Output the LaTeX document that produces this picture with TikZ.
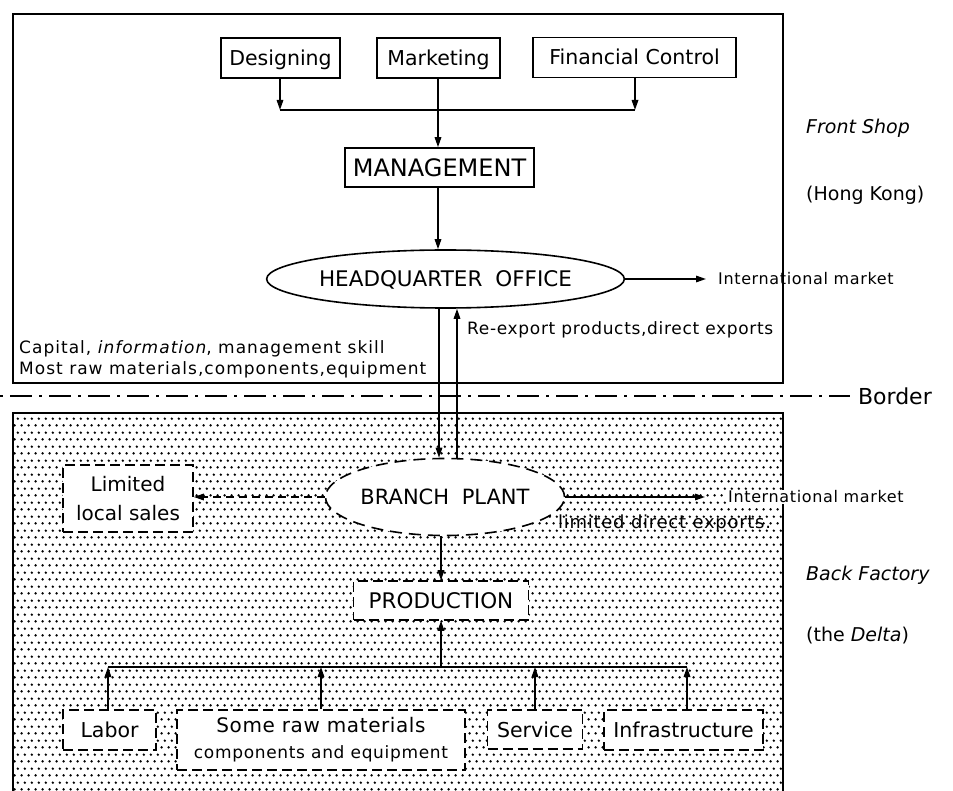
\documentclass[tikz,border=0pt]{standalone}
\usepackage{fontspec}
\setmainfont{DejaVu Sans}
\usetikzlibrary{arrows.meta,shapes.geometric,patterns.meta}
\tikzdeclarepattern{
  name=mydots,
  type=uncolored,
  bounding box={(0pt,0pt) and (6.7pt,13.6pt)},
  tile size={(6.7pt,13.6pt)},
  code={
    \fill (1.675pt,1.7pt) circle (1.35pt);
    \fill (5.025pt,8.5pt) circle (1.35pt);
  }
}
\newcommand\fsz[2]{\fontsize{#1pt}{#2pt}\selectfont}
\newcommand\lsp[1]{\addfontfeature{LetterSpace=#1}}
\begin{document}
\begin{tikzpicture}[x=1pt,y=-1pt,
  ctr/.style={text height=#1,text depth=0pt},
  sbox/.style={draw,line width=1.6pt,inner sep=0pt,minimum height=40pt,font=\fsz{20.5}{24},ctr=15pt},
  dbox/.style={draw,line width=1.6pt,dash pattern=on 10pt off 5pt,fill=white,inner sep=0pt,minimum height=40pt,font=\fsz{20.5}{24}},
  arr/.style={solid,-{Triangle[length=10pt,width=6.5pt]},line width=1.6pt},
  lbl/.style={anchor=west,inner sep=0pt},
  side/.style={anchor=west,inner sep=0pt,font=\fsz{19}{23}}]
\useasboundingbox (0,0) rectangle (953,791);
% frames
\draw[line width=1.6pt] (13,14) rectangle (783,383);
\fill[pattern=mydots,pattern color=black] (13,413) rectangle (783,791);
\draw[line width=1.6pt] (13,791) -- (13,413) -- (783,413) -- (783,791);
% top nodes
\node[sbox,minimum width=119pt] (des) at (280.5,58) {Designing};
\node[sbox,minimum width=123pt] (mkt) at (438.5,58) {Marketing};
\node[sbox,minimum width=203pt] (fin) at (634.5,57.5) {Financial Control};
\node[sbox,minimum width=189pt,minimum height=39pt,font=\fsz{24}{28},ctr=17.5pt] (mgmt) at (439.5,167.5) {MANAGEMENT};
\node[ellipse,draw,line width=1.6pt,minimum width=319pt,minimum height=58pt,inner sep=0pt,font=\fsz{21.5}{26},ctr=15.7pt] (hq) at (445.5,279) {HEADQUARTER\hspace{0.6em}OFFICE};
\coordinate (j1) at (280,110);
\coordinate (j2) at (635,110);
\coordinate (xa) at (438,0);
\coordinate (xd) at (439,0);
\coordinate (xu) at (457,0);
\draw[arr] (des.south -| j1) -- (j1);
\draw[arr] (fin.south -| j2) -- (j2);
\draw[line width=1.6pt] (j1) -- (j2);
\draw[arr] (mkt.south -| xa) -- (mgmt.north -| xa);
\draw[arr] (mgmt.south -| xa) -- (hq.north -| xa);
\node[lbl,font={\fsz{16}{19}\lsp{4}}] (intl1) at (718,279) {International market};
\draw[arr] (hq.east) -- ([xshift=-12pt]intl1.west);
% side labels
\node[side,font={\fsz{19}{23}\itshape}] (fs) at (806,128) {Front Shop};
\node[side] (hk) at (806,195) {(Hong Kong)};
\node[side,font={\fsz{19}{23}\itshape}] (bf) at (806,575) {Back Factory};
\node[side] (dl) at (806,636) {(the \textit{Delta})};
% captions
\node[lbl,font={\fsz{17}{20}\lsp{6}}] (cap1) at (19,349) {Capital, \textit{information}, management skill};
\node[lbl,font={\fsz{17}{20}\lsp{6}}] (cap2) at (19,370) {Most raw materials,components,equipment};
\node[lbl,font={\fsz{17}{20}\lsp{4}}] (rex) at (467,330) {Re-export products,direct exports};
% border
\coordinate (bl) at (0,396);
\node[anchor=east,inner sep=0pt,font=\fsz{22}{26}] (border) at (932,396) {Border};
\draw[line width=2pt,dash pattern=on 3pt off 7pt on 22pt off 7pt] (bl) -- ([xshift=-8pt]border.west);
% branch plant
\node[ellipse,draw,line width=1.6pt,dash pattern=on 12pt off 7pt,fill=white,minimum width=214pt,minimum height=77pt,inner sep=0pt,font=\fsz{21}{25},ctr=15.3pt] (bp) at (445,497) {BRANCH\hspace{0.6em}PLANT};
\draw[arr] (hq.south -| xd) -- (bp.north -| xd);
\draw[arr] (bp.north -| xu) -- (hq.south -| xu);
\node[dbox,minimum width=130pt,minimum height=67pt,align=center,font=\fsz{20}{29}] (lim) at (128,498.5) {Limited\\local sales};
\draw[arr,dash pattern=on 8pt off 5pt] (bp.west) -- (bp.west -| lim.east);
\node[lbl,fill=white,inner sep=1pt,font={\fsz{16}{19}\lsp{4}}] (intl2) at (727,497) {International market};
\draw[arr] (bp.east) -- ([xshift=-22pt]intl2.west);
\node[lbl,font={\fsz{18}{21}\lsp{4}}] (lde) at (558,524) {limited direct exports.};
% production
\node[dbox,minimum width=175pt,minimum height=39pt,font=\fsz{21.5}{25},ctr=15.7pt] (prod) at (441,600.5) {PRODUCTION};
\draw[arr] (prod.north |- bp.south) -- (prod.north);
% inputs
\node[dbox,minimum width=93pt,ctr=15pt] (lab) at (109.5,730) {Labor};
\node[dbox,minimum width=288pt,minimum height=60pt,align=center,font={\fsz{20}{26}\lsp{3}}] (raw) at (321,740) {Some raw materials\\{\fsz{17}{20}\lsp{4}components and equipment}};
\node[dbox,minimum width=95pt,minimum height=39pt,ctr=15pt] (serv) at (535,729.5) {Service};
\node[dbox,minimum width=159pt,ctr=15pt] (infra) at (683.5,730) {Infrastructure};
\coordinate (b1) at (108,667);
\coordinate (b2) at (687,667);
\draw[line width=1.6pt] (b1) -- (b2);
\draw[arr] (lab.north -| b1) -- (b1);
\draw[arr] (raw.north) -- (raw.north |- b1);
\draw[arr] (serv.north) -- (serv.north |- b1);
\draw[arr] (infra.north -| b2) -- (b2);
\draw[arr] (prod.south |- b1) -- (prod.south);
\end{tikzpicture}
\end{document}
